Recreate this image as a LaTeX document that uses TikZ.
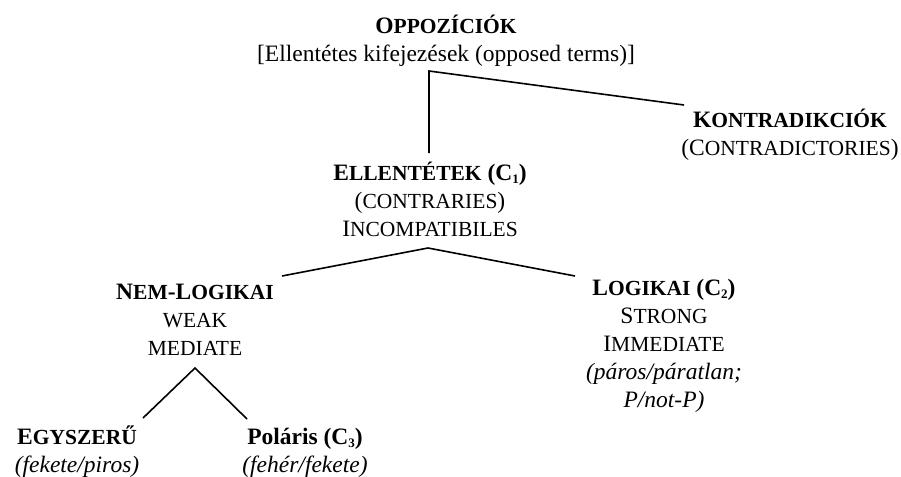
\documentclass[tikz,border=0pt]{standalone}
\usepackage{fontspec}
\setmainfont{Liberation Serif}
\newcommand\smc[1]{{\fontsize{21.5}{28}\selectfont #1}}
\newcommand\idx[1]{\raisebox{-0.3ex}{\fontsize{13}{13}\selectfont #1}}

\begin{document}
\begin{tikzpicture}[x=1pt, y=-1pt, font=\fontsize{23.5}{28}\selectfont]
  \tikzset{lbl/.style={align=center, inner sep=0pt, anchor=base},
           branch/.style={line width=1.6pt}}
  \useasboundingbox (0,0) rectangle (901,476);
  % labels (placed at the baseline of their last line)
  \node[lbl] (opp) at (446,62) {\textbf{O\smc{PPOZÍCIÓK}}\\ {[}Ellentétes kifejezések (opposed terms){]}};
  \node[lbl] (kon) at (790,155) {\textbf{K\smc{ONTRADIKCIÓK}}\\ (C\smc{ONTRADICTORIES})};
  \node[lbl] (ell) at (430,236) {\textbf{E\smc{LLENTÉTEK} (C\idx{1})}\\ (\smc{CONTRARIES})\\ I\smc{NCOMPATIBILES}};
  \node[lbl] (nem) at (195,355) {\textbf{N\smc{EM}-L\smc{OGIKAI}}\\ \smc{WEAK}\\ \smc{MEDIATE}};
  \node[lbl] (log) at (664,407) {\textbf{L\smc{OGIKAI} (C\idx{2})}\\ S\smc{TRONG}\\ I\smc{MMEDIATE}\\ \textit{(páros/páratlan;}\\ \textit{P/not-P)}};
  \node[lbl] (egy) at (77,472) {\textbf{E\smc{GYSZERŰ}}\\ \textit{(fekete/piros)}};
  \node[lbl] (pol) at (305,472) {\textbf{Poláris (C\idx{3})}\\ \textit{(fehér/fekete)}};
  % branches
  \coordinate (oppj) at (429,71);
  \coordinate (ellt) at (429,153);
  \coordinate (konend) at (684,105);
  \coordinate (ellj) at (428,248);
  \coordinate (nemend) at (282,276);
  \coordinate (logend) at (575,276);
  \coordinate (nemj) at (195,368);
  \coordinate (egyend) at (143,418);
  \coordinate (polend) at (247,419);
  \draw[branch] (ellt) -- (oppj) -- (konend);
  \draw[branch] (nemend) -- (ellj) -- (logend);
  \draw[branch] (egyend) -- (nemj) -- (polend);
\end{tikzpicture}
\end{document}
